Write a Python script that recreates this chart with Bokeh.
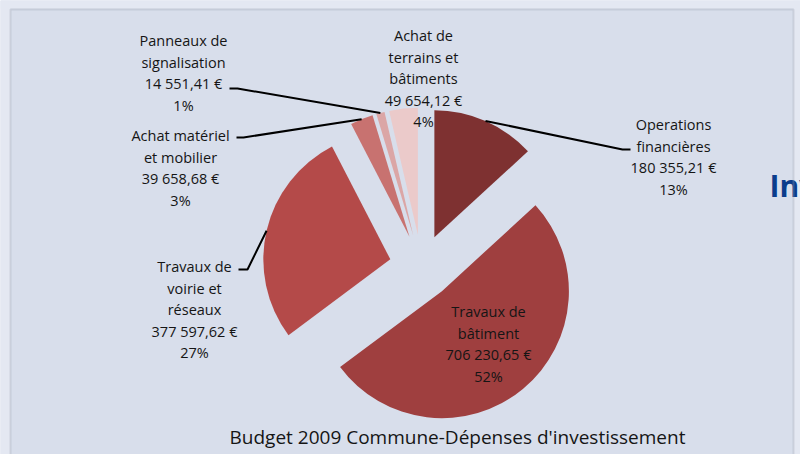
import numpy as np
from bokeh.plotting import figure
from bokeh.models import Range1d, ColumnDataSource, BoxAnnotation
from bokeh.core.properties import value
from bokeh.embed import file_html
from bokeh.resources import INLINE

# ---------------- data ----------------
categories = ["Operations financières", "Travaux de bâtiment",
              "Travaux de voirie et réseaux", "Achat matériel et mobilier",
              "Panneaux de signalisation", "Achat de terrains et bâtiments"]
label_lines = [["Operations", "financières"],
               ["Travaux de", "bâtiment"],
               ["Travaux de", "voirie et", "réseaux"],
               ["Achat matériel", "et mobilier"],
               ["Panneaux de", "signalisation"],
               ["Achat de", "terrains et", "bâtiments"]]
amounts = [180355.21, 706230.65, 377597.62, 39658.68, 14551.41, 49654.12]
percents = [13, 52, 27, 3, 1, 4]
colors = ["#7E3131", "#9F3F3F", "#B44A49", "#C87270", "#DBA6A6", "#EBCACA"]
title_text = "Budget 2009 Commune-Dépenses d'investissement"

# ---------------- layout (pixel space, y measured from top) ----------------
W, H = 800, 454
FONT = "Open Sans"
CX, CY = 421, 266          # pie centre
R = 127                    # radius
EXPLODE = 32               # explosion offset
LINE_H = 21.5
label_pos = [(673, 124), (488, 311), (194, 266), (180, 135), (183, 40), (423, 35)]
# leader elbows: (elbow, end) for slices with a leader line
leaders = {0: [(622, 149), (630, 149)],
           2: [(247, 269), (238, 269)],
           3: [(243, 137), (236, 137)],
           4: [(237, 88), (229, 88)]}

def Y(py):
    return H - py

p = figure(width=W, height=H, output_backend="svg", toolbar_location=None,
           x_range=Range1d(0, W), y_range=Range1d(0, H), min_border=0)
p.axis.visible = False
p.grid.visible = False
p.outline_line_color = None
p.background_fill_color = "#D8DEEB"
p.border_fill_color = "#D8DEEB"

# outer (page) strips, lighter
for kw in (dict(left=0, right=W, bottom=Y(8), top=H),
           dict(left=0, right=10, bottom=0, top=H),
           dict(left=793, right=W, bottom=0, top=H)):
    p.add_layout(BoxAnnotation(fill_color="#E4E8F2", fill_alpha=1,
                               line_color=None, level="underlay", **kw))

# ---------------- pie ----------------
amt = np.array(amounts)
frac = amt / amt.sum()
end = np.cumsum(frac) * 2 * np.pi
start = end - frac * 2 * np.pi
mid = (start + end) / 2
dx, dy = np.sin(mid), np.cos(mid)
ax = CX + EXPLODE * dx
ay = Y(CY) + EXPLODE * dy

src = ColumnDataSource(dict(x=ax, y=ay, s=np.pi / 2 - start, e=np.pi / 2 - end,
                            color=colors, name=categories))
p.wedge(x="x", y="y", radius=R, start_angle="s", end_angle="e",
        direction="clock", fill_color="color", line_color=None, source=src)

# ---------------- leader lines ----------------
xs, ys = [], []
for i, pts in leaders.items():
    xs.append([ax[i] + R * dx[i]] + [q[0] for q in pts])
    ys.append([ay[i] + R * dy[i]] + [Y(q[1]) for q in pts])
p.multi_line(xs=xs, ys=ys, line_color="black", line_width=2)

# ---------------- labels ----------------
def fmt(a):
    return f"{a:,.2f}".replace(",", " ").replace(".", ",") + " €"

tx, ty, tt = [], [], []
for i, lines in enumerate(label_lines):
    all_lines = lines + [fmt(amounts[i]), f"{percents[i]}%"]
    x0, y0 = label_pos[i]
    for k, s in enumerate(all_lines):
        tx.append(x0)
        ty.append(Y(y0 + k * LINE_H))
        tt.append(s)
p.text(x=tx, y=ty, text=tt, text_align="center", text_baseline="middle",
       text_font=value(FONT), text_font_size="14.5px", text_color="#151515")

# title
p.text(x=[457], y=[Y(436)], text=[title_text], text_align="center",
       text_baseline="middle", text_font=value(FONT), text_font_size="19px",
       text_color="#151515")

# partial heading behind the chart
p.text(x=[769], y=[Y(185)], text=["Inv"], text_align="left",
       text_baseline="alphabetic", text_font=value(FONT), text_font_size="30px",
       text_font_style="bold", text_color="#0B3D8C")

# frame border
p.add_layout(BoxAnnotation(left=10, right=793, bottom=Y(470), top=Y(9),
                           fill_alpha=0, line_color="#9DA3AE", line_width=2))

open("out.html", "w").write(file_html(p, INLINE))
